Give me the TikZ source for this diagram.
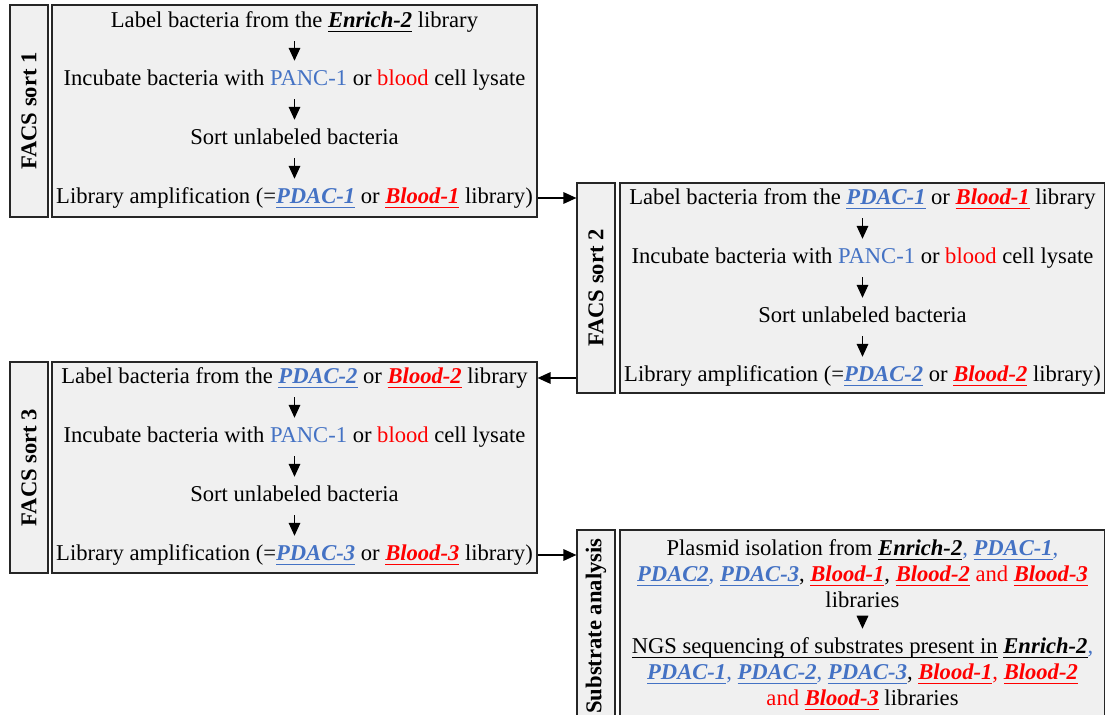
\documentclass[tikz,border=0pt]{standalone}
\usepackage{fontspec}
\setmainfont{Liberation Serif}
\usetikzlibrary{arrows.meta}
\definecolor{pdacblue}{HTML}{4472C4}
\definecolor{bloodred}{HTML}{FF0000}
\definecolor{panelgray}{HTML}{F0F0F0}
\tikzstyle{panel}=[draw=black!85, fill=panelgray, line width=0.6pt, inner sep=0pt]
\tikzstyle{stage}=[panel, minimum width=242.5pt, minimum height=106pt]
\tikzstyle{tag}=[panel, rotate=90, minimum height=19pt, font=\fontsize{11.3}{13}\bfseries]
\tikzstyle{task}=[inner sep=0pt, outer ysep=4.5pt, align=center, font=\fontsize{11.3}{13}\selectfont]
\tikzstyle{line}=[task, text height=7.9pt, text depth=2.3pt]
\newcommand{\task}{\node[line]}
\newcommand{\thul}[1]{\setbox0\hbox{#1}\rlap{\rule[-2.3pt]{\wd0}{0.8pt}}\box0\relax}
\newcommand{\pdac}[1]{{\color{pdacblue}\thul{\textbf{\textit{#1}}}}}
\newcommand{\blood}[1]{{\color{bloodred}\thul{\textbf{\textit{#1}}}}}
\newcommand{\enrich}{\thul{\textbf{\textit{Enrich-2}}}}
\newcommand{\panc}{{\color{pdacblue}PANC-1} or {\color{bloodred}blood}}
\newcommand{\bc}{{\color{pdacblue},}}
\newcommand{\rc}{{\color{bloodred},}}
\begin{document}
\begin{tikzpicture}[x=0.5pt, y=-0.5pt
    ,every edge/.style={
        draw, line width=0.65pt,
        -{Triangle[length=6.5pt,width=5.8pt]} }
]
\useasboundingbox (0,0) rectangle (1105,715);
\clip (0,0) rectangle (1105,715);
% FACS sort 1
\node[stage] (main1) at (294.5,111) {};
\node[tag, minimum width=106pt] (tag1) at (29,111) {FACS sort 1};
\task (l11) at (294.5,22) {Label bacteria from the \enrich{} library};
\task (l12) at (294.5,80) {Incubate bacteria with \panc{} cell lysate};
\task (l13) at (294.5,139) {Sort unlabeled bacteria};
\task (l14) at (294.5,198) {Library amplification (=\pdac{PDAC-1} or \blood{Blood-1} library)};
% FACS sort 2
\node[stage, minimum height=105pt] (main2) at (862.5,288) {};
\node[tag, minimum width=105pt] (tag2) at (596,288) {FACS sort 2};
\task (l21) at (862.5,199) {Label bacteria from the \pdac{PDAC-1} or \blood{Blood-1} library};
\task (l22) at (862.5,258) {Incubate bacteria with \panc{} cell lysate};
\task (l23) at (862.5,317) {Sort unlabeled bacteria};
\task (l24) at (862.5,376) {Library amplification (=\pdac{PDAC-2} or \blood{Blood-2} library)};
% FACS sort 3
\node[stage, minimum height=105.5pt] (main3) at (294.5,467.5) {};
\node[tag, minimum width=105.5pt] (tag3) at (29,467.5) {FACS sort 3};
\task (l31) at (294.5,378) {Label bacteria from the \pdac{PDAC-2} or \blood{Blood-2} library};
\task (l32) at (294.5,437) {Incubate bacteria with \panc{} cell lysate};
\task (l33) at (294.5,496) {Sort unlabeled bacteria};
\task (l34) at (294.5,555) {Library amplification (=\pdac{PDAC-3} or \blood{Blood-3} library)};
% substrate analysis (runs past the lower edge)
\node[stage, minimum height=100pt] (main4) at (862.5,630) {};
\node[tag, minimum width=96pt] (tag4) at (596,626) {Substrate analysis};
\node[task] (plas) at (862.5,574) {Plasmid isolation from \enrich\bc{} \pdac{PDAC-1}\bc\\
  \pdac{PDAC2}\bc{} \pdac{PDAC-3}, \blood{Blood-1}, \blood{Blood-2} {\color{bloodred}and} \blood{Blood-3}\\
  libraries};
\node[task] (ngs) at (862.5,674) {\thul{NGS sequencing of substrates present in} \enrich\bc\\
  \pdac{PDAC-1}\bc{} \pdac{PDAC-2}\bc{} \pdac{PDAC-3}, \blood{Blood-1}\rc{} \blood{Blood-2}\\
  {\color{bloodred}and} \blood{Blood-3} libraries};
\path
(l11) edge (l12)
(l12) edge (l13)
(l13) edge (l14)
(l21) edge (l22)
(l22) edge (l23)
(l23) edge (l24)
(l31) edge (l32)
(l32) edge (l33)
(l33) edge (l34)
(plas) edge (ngs)
(l14 -| main1.east) edge (l14 -| tag2.north)
(l31 -| tag2.north) edge (l31 -| main3.east)
(l34 -| main3.east) edge (l34 -| tag4.north)
;
\end{tikzpicture}
\end{document}
